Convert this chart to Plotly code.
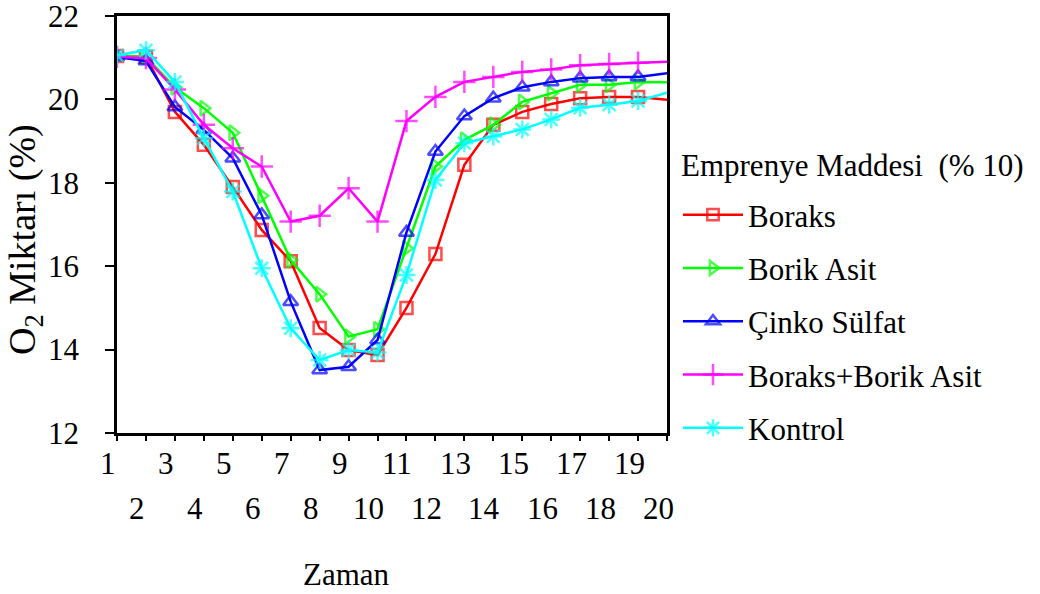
import plotly.graph_objects as go

zaman = list(range(1, 21))
tick_labels = [str(i) for i in zaman]

boraks = [21.04, 21.02, 19.70, 18.91, 17.90, 16.87, 16.12, 14.52, 13.99, 13.87,
          15.00, 16.29, 18.43, 19.39, 19.70, 19.89, 20.03, 20.06, 20.06, 19.99]
borik_asit = [21.04, 21.02, 20.29, 19.79, 19.20, 17.69, 16.15, 15.33, 14.31, 14.49,
              16.43, 18.39, 19.03, 19.39, 19.94, 20.15, 20.35, 20.35, 20.42, 20.41]
cinko_sulfat = [21.02, 20.92, 19.82, 19.27, 18.59, 17.23, 15.15, 13.51, 13.59, 14.23,
                16.81, 18.75, 19.60, 20.03, 20.29, 20.42, 20.51, 20.54, 20.54, 20.63]
boraks_borik = [21.02, 20.99, 20.24, 19.39, 18.83, 18.39, 17.07, 17.21, 17.87, 17.07,
                19.48, 20.06, 20.42, 20.54, 20.66, 20.72, 20.82, 20.85, 20.88, 20.90]
kontrol = [21.06, 21.18, 20.42, 19.07, 17.79, 15.95, 14.51, 13.75, 13.99, 13.93,
           15.79, 18.07, 18.95, 19.11, 19.28, 19.52, 19.80, 19.87, 19.96, 20.16]

series = [
    ("Boraks", boraks, "#FF0000", "square-open", 12),
    ("Borik Asit", borik_asit, "#00FF00", "triangle-right-open", 13),
    ("Çinko Sülfat", cinko_sulfat, "#0000FF", "triangle-up-open", 13),
    ("Boraks+Borik Asit", boraks_borik, "#FF00FF", "cross-thin-open", 16),
    ("Kontrol", kontrol, "#00FFFF", "asterisk-open", 15),
]

FONT = "Liberation Serif, Times New Roman, serif"
fig = go.Figure()
for i, (name, vals, color, sym, sz) in enumerate(series):
    sizes = [sz] * (len(zaman) - 1) + [0]
    fig.add_trace(go.Scatter(
        x=zaman, y=vals, name=name, mode="lines+markers",
        legendgroup=f"g{i}",
        line=dict(color=color, width=2.5),
        marker=dict(symbol=sym, size=sizes, color=color, line=dict(color=color, width=2.5)),
        cliponaxis=True,
    ))

annotations = []
for n, lab in zip(zaman, tick_labels):
    odd = n % 2 == 1
    annotations.append(dict(
        x=n, xref="x", xshift=-9, y=-0.072 if odd else -0.18, yref="paper",
        text=lab, showarrow=False, xanchor="center", yanchor="middle",
        font=dict(family=FONT, size=31, color="black"),
    ))
annotations.append(dict(
    x=0.418, y=-0.34, xref="paper", yref="paper", text="Zaman", showarrow=False,
    xanchor="center", yanchor="middle", font=dict(family=FONT, size=31, color="black"),
))
annotations.append(dict(
    x=(25 - 117) / 550, y=(433 - 240) / 417, xref="paper", yref="paper",
    text="O<sub>2</sub> Miktarı (%)",
    showarrow=False, textangle=-90, xanchor="center", yanchor="middle",
    font=dict(family=FONT, size=38, color="black"),
))
annotations.append(dict(
    x=(679 - 117) / 550, y=(433 - 165) / 417, xref="paper", yref="paper",
    text="Emprenye Maddesi  (% 10)", showarrow=False, xanchor="left", yanchor="middle",
    font=dict(family=FONT, size=31, color="black"),
))

fig.update_layout(
    width=1040, height=594,
    margin=dict(l=117, r=373, t=16, b=161, autoexpand=False),
    paper_bgcolor="white", plot_bgcolor="white",
    font=dict(family=FONT, size=31, color="black"),
    showlegend=True,
    legend=dict(
        x=(678 - 117) / 550, xanchor="left", y=(433 - 188) / 417, yanchor="top",
        font=dict(family=FONT, size=31, color="black"),
        itemwidth=60, tracegroupgap=10, bgcolor="rgba(0,0,0,0)",
    ),
    annotations=annotations,
    xaxis=dict(
        range=[1, 20], tickvals=zaman, showticklabels=False,
        ticks="outside", ticklen=5, tickwidth=2, tickcolor="black",
        showline=True, linecolor="black", linewidth=2.5, mirror=True,
        showgrid=False, zeroline=False, automargin=False,
    ),
    yaxis=dict(
        range=[12, 22], tickvals=[12, 14, 16, 18, 20, 22],
        ticks="outside", ticklen=9, tickwidth=2, tickcolor="black",
        showline=True, linecolor="black", linewidth=2.5, mirror=True,
        showgrid=False, zeroline=False, ticklabeloverflow="allow", automargin=False,
        ticklabelstandoff=20,
        tickfont=dict(family=FONT, size=31, color="black"),
    ),
)

fig.write_html("out.html")
